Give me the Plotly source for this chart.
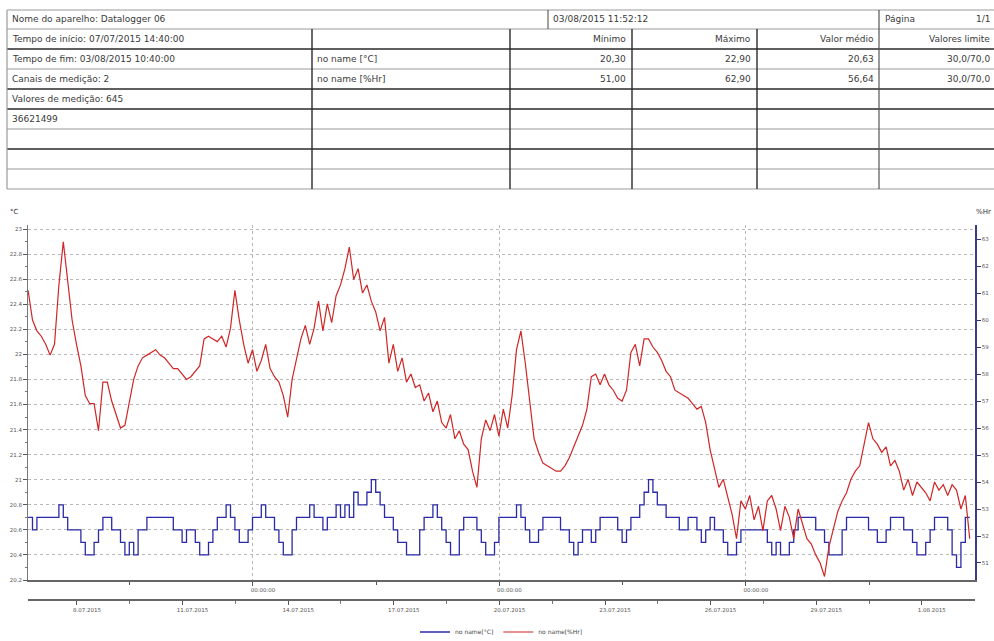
import plotly.graph_objects as go
import pandas as pd

# ---------------- data ----------------
start_time = "2015-07-06 14:40"
sample_step = "3h"

temp_c = [
    20.7, 20.6, 20.7, 20.7, 20.7, 20.7, 20.7, 20.8,
    20.7, 20.6, 20.6, 20.6, 20.5, 20.4, 20.4, 20.5,
    20.6, 20.7, 20.7, 20.6, 20.6, 20.5, 20.4, 20.5,
    20.4, 20.6, 20.6, 20.7, 20.7, 20.7, 20.7, 20.7,
    20.7, 20.6, 20.6, 20.5, 20.6, 20.6, 20.5, 20.4,
    20.4, 20.5, 20.6, 20.7, 20.7, 20.8, 20.7, 20.6,
    20.5, 20.5, 20.6, 20.7, 20.7, 20.8, 20.7, 20.7,
    20.6, 20.5, 20.4, 20.4, 20.6, 20.7, 20.7, 20.7,
    20.8, 20.7, 20.7, 20.6, 20.7, 20.7, 20.8, 20.7,
    20.8, 20.7, 20.9, 20.8, 20.8, 20.9, 21.0, 20.9,
    20.8, 20.7, 20.7, 20.6, 20.5, 20.5, 20.4, 20.4,
    20.4, 20.6, 20.7, 20.7, 20.8, 20.7, 20.6, 20.5,
    20.4, 20.4, 20.6, 20.7, 20.7, 20.7, 20.6, 20.5,
    20.4, 20.4, 20.5, 20.7, 20.7, 20.7, 20.7, 20.8,
    20.7, 20.6, 20.5, 20.5, 20.6, 20.7, 20.7, 20.7,
    20.7, 20.6, 20.6, 20.5, 20.4, 20.5, 20.6, 20.6,
    20.5, 20.6, 20.7, 20.7, 20.7, 20.7, 20.6, 20.5,
    20.6, 20.7, 20.7, 20.8, 20.9, 21.0, 20.9, 20.8,
    20.8, 20.7, 20.7, 20.7, 20.6, 20.6, 20.7, 20.7,
    20.6, 20.5, 20.6, 20.7, 20.6, 20.6, 20.5, 20.4,
    20.4, 20.5, 20.6, 20.6, 20.6, 20.6, 20.6, 20.6,
    20.5, 20.4, 20.5, 20.4, 20.4, 20.5, 20.6, 20.7,
    20.7, 20.7, 20.7, 20.6, 20.6, 20.5, 20.4, 20.4,
    20.4, 20.6, 20.7, 20.7, 20.7, 20.7, 20.7, 20.6,
    20.6, 20.5, 20.5, 20.6, 20.7, 20.7, 20.7, 20.6,
    20.6, 20.5, 20.4, 20.4, 20.5, 20.6, 20.7, 20.7,
    20.7, 20.6, 20.4, 20.3, 20.5, 20.7, 20.7,
]

hum_rh = [
    61.1, 60.0, 59.6, 59.4, 59.1, 58.7, 59.1, 61.3,
    62.9, 61.5, 60.0, 59.1, 58.3, 57.2, 56.9, 56.9,
    55.9, 57.7, 57.7, 57.0, 56.5, 56.0, 56.1, 57.0,
    57.8, 58.3, 58.6, 58.7, 58.8, 58.9, 58.7, 58.6,
    58.4, 58.2, 58.2, 58.0, 57.8, 57.9, 58.1, 58.3,
    59.3, 59.4, 59.3, 59.2, 59.4, 59.0, 59.7, 61.1,
    60.0, 59.1, 58.4, 58.9, 58.1, 58.5, 59.1, 58.2,
    57.9, 57.7, 57.2, 56.4, 57.8, 58.5, 59.3, 59.8,
    59.1, 59.7, 60.7, 59.6, 60.6, 59.9, 60.9, 61.3,
    61.9, 62.7, 61.5, 61.9, 61.0, 61.3, 60.7, 60.3,
    59.6, 60.1, 58.4, 59.1, 58.1, 58.6, 57.7, 58.0,
    57.5, 57.6, 57.0, 57.3, 56.6, 57.0, 56.2, 56.0,
    56.5, 55.6, 55.9, 55.4, 55.2, 54.4, 53.8, 55.6,
    56.3, 55.9, 56.5, 55.7, 56.7, 56.0, 57.2, 58.9,
    59.6, 58.4, 57.0, 55.6, 55.1, 54.7, 54.6, 54.5,
    54.4, 54.4, 54.6, 54.9, 55.3, 55.7, 56.1, 56.7,
    57.9, 58.0, 57.6, 58.0, 57.6, 57.4, 57.1, 57.0,
    57.4, 58.8, 59.1, 58.3, 59.3, 59.3, 59.0, 58.8,
    58.5, 58.1, 57.9, 57.4, 57.3, 57.2, 57.1, 56.9,
    56.7, 56.8, 56.2, 55.2, 54.5, 53.8, 54.1, 53.4,
    52.8, 51.9, 53.3, 53.0, 53.5, 52.6, 53.1, 52.2,
    53.3, 53.5, 53.0, 52.2, 53.1, 52.7, 51.9, 53.0,
    52.4, 51.9, 51.7, 51.3, 51.0, 50.5, 51.6, 52.3,
    52.9, 53.3, 53.6, 54.1, 54.4, 54.6, 55.4, 56.2,
    55.6, 55.4, 55.1, 55.3, 54.6, 54.8, 54.4, 53.7,
    54.1, 53.5, 54.0, 53.8, 53.6, 53.3, 54.0, 53.7,
    53.9, 53.5, 53.9, 53.7, 53.0, 53.5, 51.9,
]

series_names = ["no name[°C]", "no name[%Hr]"]

x_range = ["2015-07-06 14:36", "2015-08-02 12:16"]
week_ticks = ["2015-07-13", "2015-07-20", "2015-07-27"]
week_labels = ["00:00:00", "00:00:00", "00:00:00"]
week_minor = ["2015-07-09 12:00", "2015-07-16 12:00", "2015-07-23 12:00", "2015-07-30 12:00"]
date_ticks = ["2015-07-08", "2015-07-11", "2015-07-14", "2015-07-17", "2015-07-20",
              "2015-07-23", "2015-07-26", "2015-07-29", "2015-08-01"]
date_minor = ["2015-07-09 12:00", "2015-07-12 12:00", "2015-07-15 12:00", "2015-07-18 12:00",
              "2015-07-21 12:00", "2015-07-24 12:00", "2015-07-27 12:00", "2015-07-30 12:00"]
temp_ticks = [20.2, 20.4, 20.6, 20.8, 21.0, 21.2, 21.4, 21.6, 21.8, 22.0,
              22.2, 22.4, 22.6, 22.8, 23.0]
hum_ticks = [51, 52, 53, 54, 55, 56, 57, 58, 59, 60, 61, 62, 63]

# table texts
info_rows = ["Nome do aparelho: Datalogger 06",
             "Tempo de início: 07/07/2015 14:40:00",
             "Tempo de fim: 03/08/2015 10:40:00",
             "Canais de medição: 2",
             "Valores de medição: 645",
             "36621499"]
print_date = "03/08/2015 11:52:12"
page_label = "Página"
page_value = "1/1"
channel_names = ["no name [°C]", "no name [%Hr]"]
stat_headers = ["Mínimo", "Máximo", "Valor médio", "Valores limite"]
stat_values = [["20,30", "22,90", "20,63", "30,0/70,0"],
               ["51,00", "62,90", "56,64", "30,0/70,0"]]

# ---------------- figure ----------------
W, H = 994, 641
L, R, T, B = 28, 19, 225, 41
PW = W - L - R
PH = H - T - B


def px(x):
    return (x - L) / PW


def py(y):
    return (H - B - y) / PH


times = pd.date_range(start_time, periods=len(temp_c), freq=sample_step)

fig = go.Figure()
fig.add_trace(go.Scatter(x=times, y=temp_c, name=series_names[0], mode="lines",
                         line=dict(color="#2a2aa8", width=1.3, shape="hv"),
                         xaxis="x", yaxis="y"))
fig.add_trace(go.Scatter(x=times, y=hum_rh, name=series_names[1], mode="lines",
                         line=dict(color="#d02626", width=1.2),
                         xaxis="x", yaxis="y2"))
# helper trace so the lower date axis is drawn
fig.add_trace(go.Scatter(x=times[:1], y=temp_c[:1], mode="lines", showlegend=False,
                         hoverinfo="skip", line=dict(width=0), xaxis="x2", yaxis="y"))

tickfont = dict(family="DejaVu Sans", size=5.5, color="#555")

fig.update_layout(
    width=W, height=H,
    margin=dict(l=L, r=R, t=T, b=B, pad=0, autoexpand=False),
    paper_bgcolor="white", plot_bgcolor="white",
    showlegend=True,
    legend=dict(orientation="h", x=0.5, xanchor="center", y=py(632), yanchor="middle",
                font=dict(family="DejaVu Sans", size=6, color="#444"),
                itemwidth=30, bgcolor="rgba(0,0,0,0)"),
    xaxis=dict(type="date", range=x_range, domain=[0, 1], anchor="y", automargin=False,
               showline=True, linecolor="#666", linewidth=1.5,
               tickmode="array", tickvals=week_ticks, ticktext=week_labels,
               ticks="outside", ticklen=4, tickcolor="#555", tickfont=tickfont,
               ticklabelshift=10,
               showgrid=True, gridcolor="#b8b8b8", griddash="dot", gridwidth=1,
               minor=dict(tickmode="array", tickvals=week_minor, ticks="outside",
                          ticklen=3, tickcolor="#555", showgrid=False),
               zeroline=False),
    xaxis2=dict(type="date", range=x_range, overlaying="x", matches="x", automargin=False,
                anchor="free", position=0, side="bottom",
                showline=True, linecolor="#666", linewidth=2,
                tickmode="array", tickvals=date_ticks, tickformat="%-d.%m.%Y",
                ticks="outside", ticklen=4, tickcolor="#555", tickfont=tickfont,
                ticklabelshift=10,
                minor=dict(tickmode="array", tickvals=date_minor, ticks="outside",
                           ticklen=3, tickcolor="#777", showgrid=False),
                showgrid=False, zeroline=False),
    yaxis=dict(domain=[20 / PH, 1], range=[20.2, 23.032], automargin=False,
               tickmode="array", tickvals=temp_ticks,
               ticks="outside", ticklen=4, tickcolor="#555", tickfont=tickfont,
               showline=True, linecolor="#777", linewidth=1,
               showgrid=True, gridcolor="#b8b8b8", griddash="dot", gridwidth=1,
               minor=dict(dtick=0.1, tick0=20.2, ticks="outside", ticklen=2,
                          tickcolor="#777", showgrid=False),
               zeroline=False),
    yaxis2=dict(overlaying="y", side="right", anchor="x", range=[50.37, 63.52], automargin=False,
                tickmode="array", tickvals=hum_ticks,
                ticks="outside", ticklen=4, tickcolor="#33337a", tickfont=tickfont,
                showline=True, linecolor="#3a3a8a", linewidth=1.5,
                showgrid=False, zeroline=False),
)

ann = []
shapes = []
tfont = dict(family="DejaVu Sans", size=9, color="#3a3a3a")

# axis unit labels
ann.append(dict(x=px(8), y=py(212), xref="paper", yref="paper", text="°C", showarrow=False,
                xanchor="left", yanchor="middle", font=dict(family="DejaVu Sans", size=7, color="#333")))
ann.append(dict(x=px(993), y=py(212), xref="paper", yref="paper", text="%Hr", showarrow=False,
                xanchor="right", yanchor="middle", font=dict(family="DejaVu Sans", size=7, color="#333")))

# table geometry (pixels)
row_lines = [10, 29, 49, 69, 89, 109, 129, 149, 169, 189]
dark_rows = [49, 89, 109, 149]
col_full = [312, 510, 632, 757]
table_left, table_right = 7, 994
split_first_row = 548
page_col = 879

for yl in row_lines:
    dark = yl in dark_rows
    shapes.append(dict(type="line", xref="paper", yref="paper",
                       x0=px(table_left), x1=px(table_right), y0=py(yl), y1=py(yl),
                       line=dict(color="#2a2a2a" if dark else "#9a9a9a", width=1.6 if dark else 1.2)))
shapes.append(dict(type="line", xref="paper", yref="paper", x0=px(table_left), x1=px(table_left),
                   y0=py(row_lines[0]), y1=py(row_lines[-1]), line=dict(color="#9a9a9a", width=1.2)))
for xc in col_full:
    shapes.append(dict(type="line", xref="paper", yref="paper", x0=px(xc), x1=px(xc),
                       y0=py(row_lines[1]), y1=py(row_lines[-1]), line=dict(color="#2a2a2a", width=1.4)))
shapes.append(dict(type="line", xref="paper", yref="paper", x0=px(split_first_row), x1=px(split_first_row),
                   y0=py(row_lines[0]), y1=py(row_lines[1]), line=dict(color="#444", width=1)))
shapes.append(dict(type="line", xref="paper", yref="paper", x0=px(page_col), x1=px(page_col),
                   y0=py(row_lines[0]), y1=py(row_lines[-1]), line=dict(color="#555", width=1.2)))


def row_mid(i):
    return (row_lines[i] + row_lines[i + 1]) / 2


def txt(x, y, s, anchor="left"):
    ann.append(dict(x=px(x), y=py(y), xref="paper", yref="paper", text=s, showarrow=False,
                    xanchor=anchor, yanchor="middle", font=tfont))


for i, s in enumerate(info_rows):
    txt(10, row_mid(i), s)
txt(551, row_mid(0), print_date)
txt(883, row_mid(0), page_label)
txt(992, row_mid(0), page_value, "right")
stat_right = [628, 753, 876, 992]
for j, h in enumerate(stat_headers):
    txt(stat_right[j], row_mid(1), h, "right")
for k, name in enumerate(channel_names):
    txt(315, row_mid(2 + k), name)
    for j, v in enumerate(stat_values[k]):
        txt(stat_right[j], row_mid(2 + k), v, "right")

fig.update_layout(annotations=ann, shapes=shapes)

fig.write_html("out.html", config={"displayModeBar": False},
               post_script="document.body.style.margin='0';document.body.style.overflow='hidden';")
